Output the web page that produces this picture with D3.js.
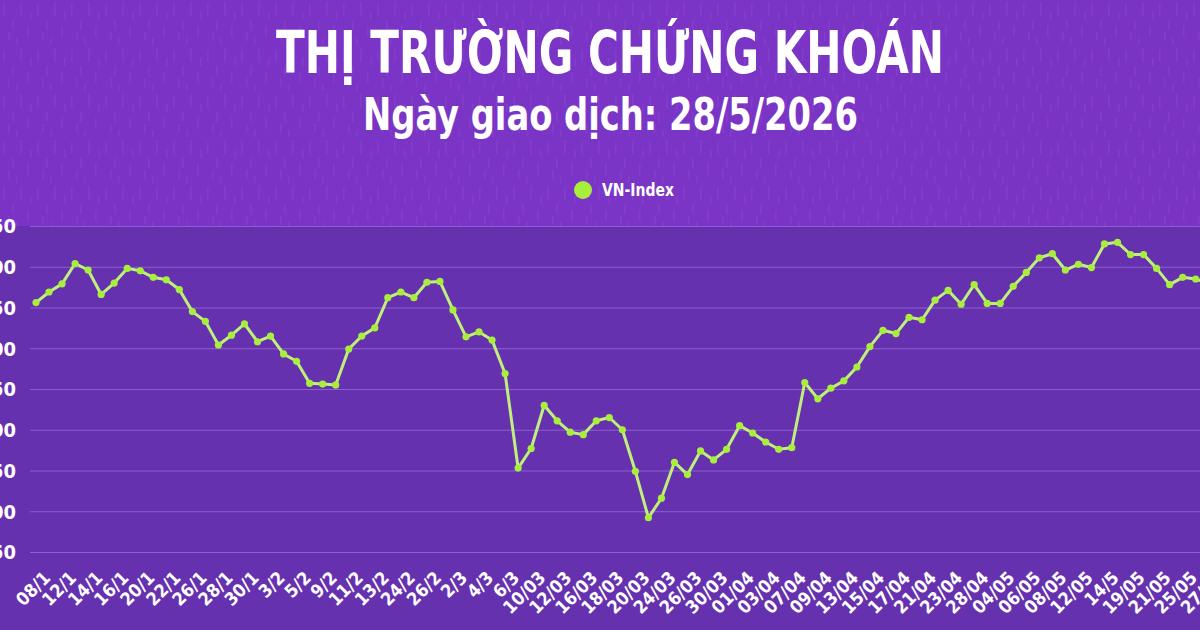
<!DOCTYPE html>
<html>
<head>
<meta charset="utf-8">
<script src="https://cdn.jsdelivr.net/npm/d3@7"></script>
<style>
  html, body { margin: 0; padding: 0; background: #6631ae; }
  svg { display: block; }
</style>
</head>
<body>
<svg id="chart" width="1200" height="630"></svg>
<script>
// ---- Data ----
const dates = [
  "08/1","09/1","12/1","13/1","14/1","15/1","16/1","19/1","20/1","21/1","22/1","23/1","26/1","27/1","28/1","29/1","30/1",
  "2/2","3/2","4/2","5/2","6/2","9/2","10/2","11/2","12/2","13/2","23/2","24/2","25/2","26/2","27/2",
  "2/3","3/3","4/3","5/3","6/3","09/03","10/03","11/03","12/03","13/03","16/03","17/03","18/03","19/03","20/03","23/03","24/03","25/03","26/03","27/03","30/03","31/03",
  "01/04","02/04","03/04","06/04","07/04","08/04","09/04","10/04","13/04","14/04","15/04","16/04","17/04","20/04","21/04","22/04","23/04","24/04","28/04","29/04",
  "04/05","05/05","06/05","07/05","08/05","11/05","12/05","13/05","14/5","18/05","19/05","20/05","21/05","22/05","25/05","26/05","27/05","28/05"
];
const vnIndex = [
  1856,1869,1879,1904,1896,1866,1880,1898,1895,1887,1884,1872,1845,1833,1804,1816,1830,
  1808,1815,1793,1784,1757,1756,1755,1799,1815,1825,1862,1869,1862,1881,1882,
  1847,1814,1820,1810,1769,1653,1677,1730,1711,1697,1694,1711,1715,1700,1649,1592,1616,1660,1645,1674,1663,1676,
  1705,1696,1685,1676,1678,1758,1738,1751,1760,1777,1802,1822,1818,1838,1835,1859,1871,1854,1878,1855,
  1855,1876,1893,1911,1916,1896,1903,1899,1928,1930,1915,1915,1898,1878,1887,1885,1880,1884
];
const yTicks = [1550,1600,1650,1700,1750,1800,1850,1900,1950];
const seriesName = "VN-Index";
const titleText = "THỊ TRƯỜNG CHỨNG KHOÁN";
const subtitleText = "Ngày giao dịch: 28/5/2026";

// ---- Layout ----
const W = 1200, H = 630;
const plotTop = 226, plotBottom = 552;
const condensed = "'Liberation Sans Narrow','DejaVu Sans Condensed','Roboto','Arial Narrow',sans-serif";
const svg = d3.select("#chart");

const defs = svg.append("defs");
const grad = defs.append("linearGradient").attr("id","topbg").attr("x1",0).attr("x2",1).attr("y1",0).attr("y2",0);
grad.append("stop").attr("offset","0%").attr("stop-color","#7a33c4");
grad.append("stop").attr("offset","50%").attr("stop-color","#7b35c6");
grad.append("stop").attr("offset","100%").attr("stop-color","#7a34c4");

// streak texture
const pat = defs.append("pattern").attr("id","streaks").attr("patternUnits","userSpaceOnUse")
  .attr("width",34).attr("height",46);
[[3,4,12],[12,20,10],[20,2,14],[27,26,11],[8,32,9],[30,12,8],[16,38,7]].forEach(([x,y,h]) => {
  pat.append("rect").attr("x",x).attr("y",y).attr("width",1.6).attr("height",h)
    .attr("fill","#9a55d6").attr("opacity",0.25);
});

svg.append("rect").attr("x",0).attr("y",0).attr("width",W).attr("height",plotTop).attr("fill","url(#topbg)");
svg.append("rect").attr("x",0).attr("y",0).attr("width",W).attr("height",plotTop).attr("fill","url(#streaks)");
svg.append("rect").attr("x",0).attr("y",plotTop).attr("width",W).attr("height",H-plotTop).attr("fill","#6631ae");

// ---- Scales ----
const x = d3.scalePoint().domain(dates).range([36, 36 + (dates.length-1)*13.03]);
const y = d3.scaleLinear().domain([1550,1950]).range([plotBottom, plotTop]);

// gridlines
const yAxis = d3.axisLeft(y).tickValues(yTicks).tickSize(-(W-30)).tickPadding(14).tickFormat(d3.format("d"));
const gy = svg.append("g").attr("transform","translate(30,0)").call(yAxis);
gy.select(".domain").remove();
gy.selectAll(".tick line").attr("stroke","#8c5fd0").attr("stroke-width",1);
gy.selectAll(".tick text").attr("fill","#ffffff").attr("font-family",condensed)
  .attr("font-weight","bold").attr("font-size",20).attr("dy","0.34em");

// x axis labels
const labelDates = dates.filter((d,i) => i % 2 === 0);
const xAxis = d3.axisBottom(x).tickValues(labelDates).tickSize(0).tickPadding(0);
const gx = svg.append("g").attr("transform",`translate(0,${plotBottom})`).call(xAxis);
gx.select(".domain").remove();
gx.selectAll(".tick text")
  .attr("fill","#ffffff").attr("font-family",condensed).attr("font-weight","bold").attr("font-size",18)
  .attr("text-anchor","end").attr("x",0).attr("y",0).attr("dy",0)
  .attr("transform","translate(15,27) rotate(-45)");

// line
const line = d3.line().x((d,i) => x(dates[i])).y(d => y(d));
svg.append("path").datum(vnIndex).attr("d",line)
  .attr("fill","none").attr("stroke","#bff07e").attr("stroke-width",3).attr("stroke-linejoin","round");
svg.append("g").selectAll("circle").data(vnIndex).join("circle")
  .attr("cx",(d,i) => x(dates[i])).attr("cy",d => y(d)).attr("r",3.6).attr("fill","#a8ee3c");

// legend
svg.append("circle").attr("cx",583).attr("cy",190).attr("r",9).attr("fill","#a8ee3c");
svg.append("text").attr("x",602).attr("y",196).text(seriesName)
  .attr("fill","#ffffff").attr("font-family",condensed).attr("font-weight","bold").attr("font-size",17)
  .attr("textLength",72).attr("lengthAdjust","spacingAndGlyphs");

// titles
svg.append("text").attr("x",610).attr("y",73).attr("text-anchor","middle").text(titleText)
  .attr("fill","#ffffff").attr("font-family",condensed).attr("font-weight","bold").attr("font-size",58)
  .attr("textLength",668).attr("lengthAdjust","spacingAndGlyphs");
svg.append("text").attr("x",610.5).attr("y",130).attr("text-anchor","middle").text(subtitleText)
  .attr("fill","#ffffff").attr("font-family",condensed).attr("font-weight","bold").attr("font-size",44)
  .attr("textLength",495).attr("lengthAdjust","spacingAndGlyphs");
</script>
</body>
</html>
